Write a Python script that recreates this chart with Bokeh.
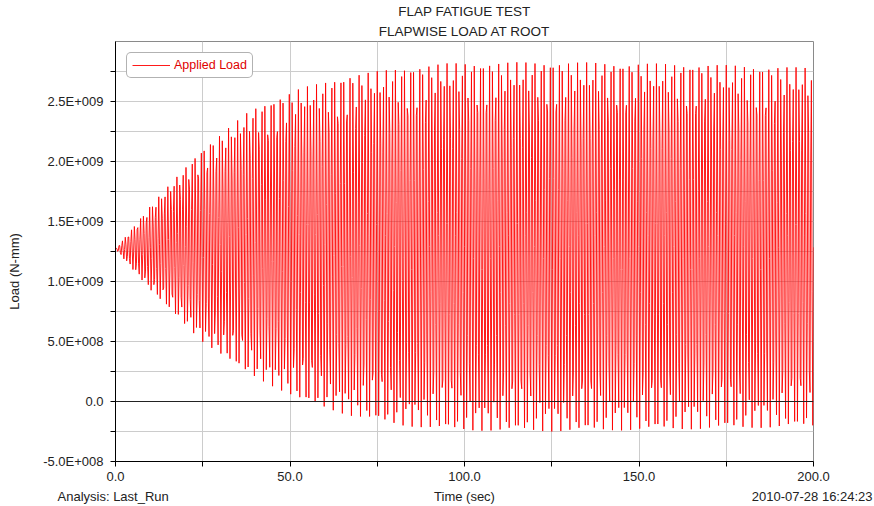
import numpy as np
from bokeh.plotting import figure
from bokeh.layouts import column, row
from bokeh.models import FixedTicker, Legend, LegendItem, Label, Span, Title
from bokeh.embed import file_html
from bokeh.resources import INLINE

# ---- data ----
# envelope of the applied load (upper / lower peaks) at a few times
env_time_s = [0.0, 10.0, 24.4, 38.7, 53.0, 67.3, 81.7, 96.0, 124.6, 167.6, 200.0]
env_upper = [1.27e9, 1.63e9, 2.09e9, 2.43e9, 2.61e9, 2.72e9, 2.78e9, 2.82e9, 2.83e9, 2.81e9, 2.78e9]
env_lower = [1.27e9, 0.93e9, 0.51e9, 0.22e9, 0.01e9, -0.12e9, -0.20e9, -0.24e9, -0.25e9, -0.23e9, -0.21e9]
cycle_freq_hz = 1.15
sample_step_s = 0.2

x_tick_values = [0, 25, 50, 75, 100, 125, 150, 175, 200]
x_tick_labels = ["0.0", "", "50.0", "", "100.0", "", "150.0", "", "200.0"]
y_tick_values = [-5.0e8, -2.5e8, 0.0, 2.5e8, 5.0e8, 7.5e8, 1.0e9, 1.25e9, 1.5e9,
                 1.75e9, 2.0e9, 2.25e9, 2.5e9, 2.75e9]
y_tick_labels = ["-5.0E+008", "", "0.0", "", "5.0E+008", "", "1.0E+009", "", "1.5E+009",
                 "", "2.0E+009", "", "2.5E+009", ""]

# ---- build the sampled signal from the read envelope ----
t = np.arange(0.0, 200.0 + sample_step_s / 2, sample_step_s)
up = np.interp(t, env_time_s, env_upper)
lo = np.interp(t, env_time_s, env_lower)
load = (up + lo) / 2 + (up - lo) / 2 * np.sin(2 * np.pi * cycle_freq_hz * t)

FONT = "Liberation Sans"
FS = "13px"
TXT = "#222222"
W = 874
FOOT_H = 18
MAIN_H = 506 - FOOT_H
FRAME_L, FRAME_T, FRAME_R, FRAME_B = 115, 41, 813, 461

p = figure(width=W, height=MAIN_H, x_range=(0, 200), y_range=(-5e8, 3e9),
           output_backend="svg", toolbar_location=None,
           min_border_left=FRAME_L, min_border_right=W - FRAME_R,
           min_border_top=FRAME_T, min_border_bottom=MAIN_H - FRAME_B)
p.background_fill_color = "white"
p.border_fill_color = "white"
p.outline_line_color = "#8a8a8a"
p.outline_line_width = 1

# two-line title (first added "above" item sits closest to the frame)
p.title.text = "FLAP FATIGUE TEST"
p.title.align = "center"
p.title.text_font = FONT
p.title.text_font_size = "13.5px"
p.title.text_font_style = "normal"
p.title.text_color = TXT
p.title.standoff = 0
p.add_layout(Title(text="FLAPWISE LOAD AT ROOT", align="center", text_font=FONT,
                   text_font_size="13.5px", text_font_style="normal",
                   text_color=TXT, standoff=6), "above")

r = p.line(t, load, line_color="#ff0000", line_width=0.9)

zero = Span(location=0, dimension="width", line_color="#222222", line_width=1)
p.add_layout(zero)

# axes
p.xaxis.ticker = FixedTicker(ticks=x_tick_values)
p.xaxis.major_label_overrides = {v: s for v, s in zip(x_tick_values, x_tick_labels)}
p.yaxis.ticker = FixedTicker(ticks=y_tick_values)
p.yaxis.major_label_overrides = {v: s for v, s in zip(y_tick_values, y_tick_labels)}
for ax in (p.xaxis[0], p.yaxis[0]):
    ax.axis_line_color = "#000000"
    ax.axis_line_width = 1
    ax.major_tick_line_color = "#000000"
    ax.major_tick_out = 5
    ax.major_tick_in = 0
    ax.minor_tick_line_color = None
    ax.major_label_text_font = FONT
    ax.major_label_text_font_size = FS
    ax.major_label_text_color = TXT
    ax.axis_label_text_font = FONT
    ax.axis_label_text_font_size = FS
    ax.axis_label_text_font_style = "normal"
    ax.axis_label_text_color = TXT
p.xaxis.major_label_standoff = 5
p.yaxis.major_label_standoff = 7
p.yaxis.axis_label = "Load (N-mm)" + "\u00a0" * 11
p.yaxis.axis_label_standoff = 18

p.xgrid.ticker = FixedTicker(ticks=x_tick_values)
p.ygrid.ticker = FixedTicker(ticks=y_tick_values)
p.xgrid.grid_line_color = "#cccccc"
p.ygrid.grid_line_color = "#cccccc"

# legend
legend = Legend(items=[LegendItem(label="Applied Load", renderers=[r])],
                location="top_left", margin=11, padding=5, spacing=0,
                glyph_width=38, glyph_height=12, label_standoff=4,
                label_text_font=FONT, label_text_font_size="12.5px",
                label_text_color="#e00000", label_height=13,
                border_line_color="#666666", border_line_width=1,
                background_fill_color="white", background_fill_alpha=1)
if "border_radius" in Legend.properties():
    legend.border_radius = 5
p.add_layout(legend)

# footer strip: analysis name, x-axis title and time stamp
foot = figure(width=W, height=FOOT_H, x_range=(0, W), y_range=(0, FOOT_H),
              output_backend="svg", toolbar_location=None,
              min_border_left=0, min_border_right=0, min_border_top=0, min_border_bottom=0)
foot.axis.visible = False
foot.grid.visible = False
foot.outline_line_color = None
foot.background_fill_color = "white"
foot.border_fill_color = "white"

def foot_label(px, text, align):
    foot.add_layout(Label(x=px, y=FOOT_H - 8, text=text, text_font=FONT,
                          text_font_size=FS, text_color=TXT,
                          text_align=align, text_baseline="middle"))

foot_label(57, "Analysis:  Last_Run", "left")
foot_label((FRAME_L + FRAME_R) / 2, "Time (sec)", "center")
foot_label(872, "2010-07-28 16:24:23", "right")

layout = column(p, row(foot, spacing=0), spacing=0)
open("out.html", "w").write(file_html(layout, INLINE))
